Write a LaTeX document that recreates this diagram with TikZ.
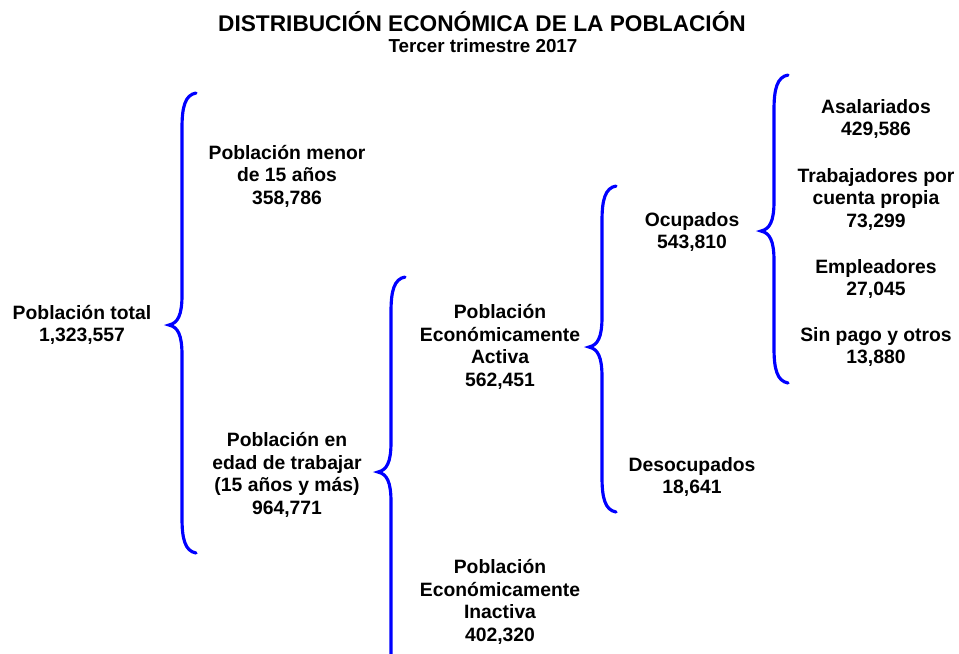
\documentclass[tikz,border=0pt]{standalone}
\usepackage{fontspec}
\setmainfont{Liberation Sans}
\usepackage{tikz}

\definecolor{azul}{RGB}{0,0,255}

\tikzset{
  texto/.style={align=center, inner sep=0pt, font=\fontsize{11}{12.8}\selectfont\bfseries},
  llave/.style={draw=azul, line width=1.8pt, line cap=round}
}

% #1 = x de la linea, #2 = y arriba, #3 = y de la punta, #4 = y abajo
\newcommand{\llave}[4]{%
  \draw[llave] (#1+14,#2) .. controls (#1+3,#2+2) and (#1,#2+14) .. (#1,#2+35)
    -- (#1,#3-30) .. controls (#1,#3-10) and (#1-4,#3-2) .. (#1-13,#3)
    .. controls (#1-4,#3+2) and (#1,#3+10) .. (#1,#3+30)
    -- (#1,#4-35) .. controls (#1,#4-14) and (#1+3,#4-2) .. (#1+14,#4);}

\begin{document}
\begin{tikzpicture}[x=0.02cm, y=-0.02cm]
  \useasboundingbox (0,0) rectangle (959,653);
  \clip (0,0) rectangle (959,653);

  \node[texto, font=\fontsize{12.9}{14}\selectfont\bfseries] (titulo) at (482,22) {DISTRIBUCIÓN ECONÓMICA DE LA POBLACIÓN};
  \node[texto, font=\fontsize{10.7}{12}\selectfont\bfseries] (subtitulo) at (483,46) {Tercer trimestre 2017};

  \node[texto] (total) at (82,325) {Población total\\1,323,557};
  \node[texto] (menor) at (287,176) {Población menor\\de 15 años\\358,786};
  \node[texto] (edad) at (287,475) {Población en\\edad de trabajar\\(15 años y más)\\964,771};
  \node[texto] (activa) at (500,347) {Población\\Económicamente\\Activa\\562,451};
  \node[texto] (inactiva) at (500,602) {Población\\Económicamente\\Inactiva\\402,320};
  \node[texto] (ocupados) at (692,232) {Ocupados\\543,810};
  \node[texto] (desocupados) at (692,477) {Desocupados\\18,641};
  \node[texto] (asalariados) at (876,119) {Asalariados\\429,586};
  \node[texto] (cuenta) at (876,199) {Trabajadores por\\cuenta propia\\73,299};
  \node[texto] (empleadores) at (876,279) {Empleadores\\27,045};
  \node[texto] (sinpago) at (876,347) {Sin pago y otros\\13,880};

  \llave{182}{93}{325}{553}
  \llave{391}{277}{472}{720}
  \llave{602}{186}{347}{512}
  \llave{774}{75}{231}{383}
\end{tikzpicture}
\end{document}
